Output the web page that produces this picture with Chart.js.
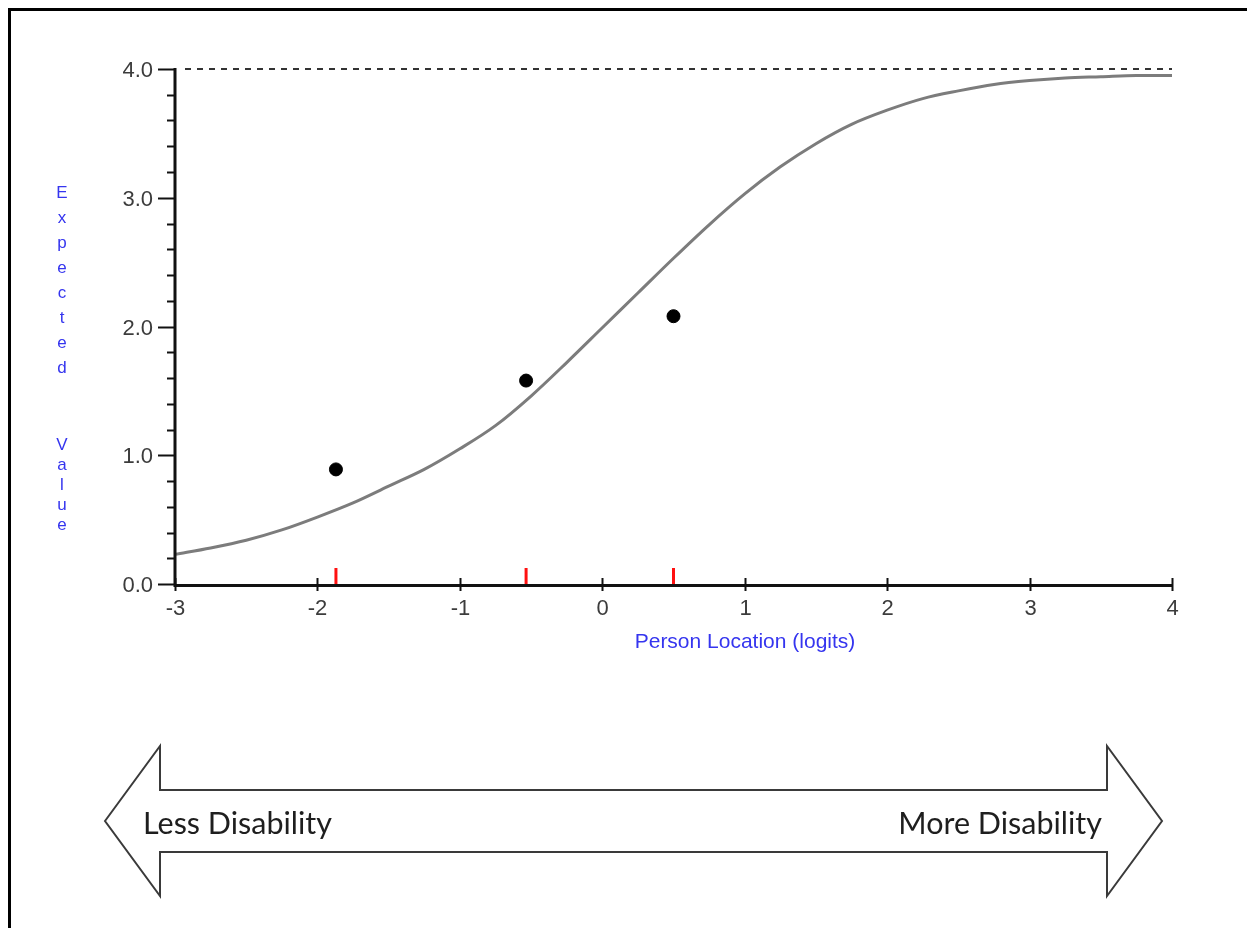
<!DOCTYPE html>
<html>
<head>
<meta charset="utf-8">
<script src="https://cdn.jsdelivr.net/npm/chart.js@4.4.1/dist/chart.umd.min.js"></script>
<style>
  html, body { margin: 0; padding: 0; background: #fff; overflow: hidden; }
  canvas { display: block; }
</style>
</head>
<body>
<canvas id="icc" width="1247" height="928"></canvas>
<script>
// Expected score curve (person location in logits -> expected value)
const curveLocations = [-3, -2.75, -2.5, -2.25, -2, -1.75, -1.5, -1.25, -1, -0.75, -0.5, -0.25,
  0, 0.25, 0.5, 0.75, 1, 1.25, 1.5, 1.75, 2, 2.25, 2.5, 2.75, 3, 3.25, 3.5, 3.75, 4];
const curveExpected = [0.23, 0.28, 0.34, 0.42, 0.52, 0.63, 0.76, 0.89, 1.05, 1.23, 1.46, 1.72,
  1.99, 2.26, 2.53, 2.79, 3.03, 3.24, 3.42, 3.57, 3.68, 3.77, 3.83, 3.88, 3.91, 3.93, 3.94, 3.95, 3.95];

// Class interval means (observed)
const classLocations = [-1.87, -0.535, 0.50];
const classObserved = [0.89, 1.58, 2.08];

// Axis ticks
const xTickValues = [-3, -2, -1, 0, 1, 2, 3, 4];
const yTickValues = [0, 1, 2, 3, 4];
const maxScore = 4;

const xTitle = 'Person Location (logits)';
const yTitle = 'Expected Value';
const leftLabel = 'Less Disability';
const rightLabel = 'More Disability';

const curvePoints = curveLocations.map((x, i) => ({ x, y: curveExpected[i] }));
const classPoints = classLocations.map((x, i) => ({ x, y: classObserved[i] }));

const TICK_FONT = '22px "Liberation Sans", Arial, sans-serif';
const BLUE = '#3535ef';

const decor = {
  id: 'decor',
  beforeDraw(chart) {
    const ctx = chart.ctx;
    ctx.save();
    ctx.fillStyle = '#fff';
    ctx.fillRect(0, 0, chart.width, chart.height);
    // frame (top and left edges)
    ctx.fillStyle = '#000';
    ctx.fillRect(8, 8, chart.width - 8, 3);
    ctx.fillRect(8, 8, 3, chart.height - 8);
    ctx.restore();
  },
  beforeDatasetsDraw(chart) {
    const { ctx, scales: { x, y } } = chart;
    ctx.save();
    // maximum score reference line
    const yMax = y.getPixelForValue(maxScore);
    ctx.strokeStyle = '#333';
    ctx.lineWidth = 2;
    ctx.setLineDash([6, 6]);
    ctx.beginPath();
    ctx.moveTo(x.getPixelForValue(xTickValues[0]) + 10, yMax);
    ctx.lineTo(x.getPixelForValue(xTickValues[xTickValues.length - 1]), yMax);
    ctx.stroke();
    ctx.restore();
  },
  afterDraw(chart) {
    const { ctx, scales: { x, y } } = chart;
    const x0 = x.getPixelForValue(xTickValues[0]);
    const x1 = x.getPixelForValue(xTickValues[xTickValues.length - 1]);
    const y0 = y.getPixelForValue(yTickValues[0]);
    const y1 = y.getPixelForValue(yTickValues[yTickValues.length - 1]);
    ctx.save();

    // axis lines
    ctx.strokeStyle = '#111';
    ctx.lineWidth = 3;
    ctx.beginPath();
    ctx.moveTo(x0, y1 - 1);
    ctx.lineTo(x0, y0 + 1.5);
    ctx.lineTo(x1 + 1, y0 + 1.5);
    ctx.stroke();

    // y ticks: major every 1.0, minor every 0.2
    ctx.lineWidth = 2;
    for (let i = 0; i < yTickValues.length - 1; i++) {
      for (let k = 1; k < 5; k++) {
        const py = Math.round(y.getPixelForValue(yTickValues[i] + k * 0.2)) + 0.5;
        ctx.beginPath();
        ctx.moveTo(x0 - 8, py);
        ctx.lineTo(x0, py);
        ctx.stroke();
      }
    }
    ctx.font = TICK_FONT;
    ctx.fillStyle = '#3c3c3c';
    ctx.textAlign = 'right';
    ctx.textBaseline = 'middle';
    yTickValues.forEach(v => {
      const py = Math.round(y.getPixelForValue(v)) + 0.5;
      ctx.beginPath();
      ctx.moveTo(x0 - 17, py);
      ctx.lineTo(x0, py);
      ctx.stroke();
      ctx.fillText(v.toFixed(1), x0 - 22, py + 1);
    });

    // x ticks
    ctx.textAlign = 'center';
    ctx.textBaseline = 'top';
    xTickValues.forEach(v => {
      const px = Math.round(x.getPixelForValue(v)) + 0.5;
      ctx.beginPath();
      ctx.moveTo(px, y0 - 6);
      ctx.lineTo(px, y0 + 7);
      ctx.stroke();
      ctx.fillText(String(v), px, y0 + 14);
    });

    // class interval locations along the x axis
    ctx.strokeStyle = '#ff1010';
    ctx.lineWidth = 3;
    classLocations.forEach(v => {
      const px = x.getPixelForValue(v);
      ctx.beginPath();
      ctx.moveTo(px, y0 - 16);
      ctx.lineTo(px, y0);
      ctx.stroke();
    });

    // axis titles
    ctx.fillStyle = BLUE;
    ctx.font = '21px "Liberation Sans", Arial, sans-serif';
    ctx.textAlign = 'center';
    ctx.textBaseline = 'alphabetic';
    ctx.fillText(xTitle, 745, 648);

    ctx.font = '17px "Liberation Sans", Arial, sans-serif';
    const words = yTitle.split(' ');
    let by = 198;
    [...words[0]].forEach(ch => { ctx.fillText(ch, 62, by); by += 25; });
    by = 450;
    [...words[1]].forEach(ch => { ctx.fillText(ch, 62, by); by += 20; });

    // direction arrow
    ctx.strokeStyle = '#3a3a3a';
    ctx.lineWidth = 2;
    ctx.setLineDash([]);
    ctx.beginPath();
    ctx.moveTo(105, 821);
    ctx.lineTo(160, 746);
    ctx.lineTo(160, 790);
    ctx.lineTo(1107, 790);
    ctx.lineTo(1107, 746);
    ctx.lineTo(1162, 821);
    ctx.lineTo(1107, 896);
    ctx.lineTo(1107, 852);
    ctx.lineTo(160, 852);
    ctx.lineTo(160, 896);
    ctx.closePath();
    ctx.stroke();

    ctx.fillStyle = '#1e1e1e';
    ctx.font = '30.5px Lato, "Open Sans", sans-serif';
    ctx.textAlign = 'left';
    ctx.fillText(leftLabel, 143, 834);
    ctx.textAlign = 'right';
    ctx.fillText(rightLabel, 1102, 834);

    ctx.restore();
  }
};

new Chart(document.getElementById('icc'), {
  type: 'scatter',
  data: {
    datasets: [
      {
        type: 'line',
        data: curvePoints,
        borderColor: '#7c7c7c',
        borderWidth: 3,
        pointRadius: 0,
        cubicInterpolationMode: 'monotone',
        fill: false,
        order: 2
      },
      {
        data: classPoints,
        backgroundColor: '#000',
        borderColor: '#000',
        pointRadius: 6.5,
        pointHoverRadius: 6.5,
        order: 1
      }
    ]
  },
  options: {
    responsive: false,
    animation: false,
    events: [],
    layout: { padding: { left: 175, right: 75, top: 69, bottom: 344 } },
    plugins: { legend: { display: false }, tooltip: { enabled: false } },
    scales: {
      x: { type: 'linear', min: -3, max: 4, display: false },
      y: { type: 'linear', min: 0, max: 4, display: false }
    }
  },
  plugins: [decor]
});
</script>
</body>
</html>
